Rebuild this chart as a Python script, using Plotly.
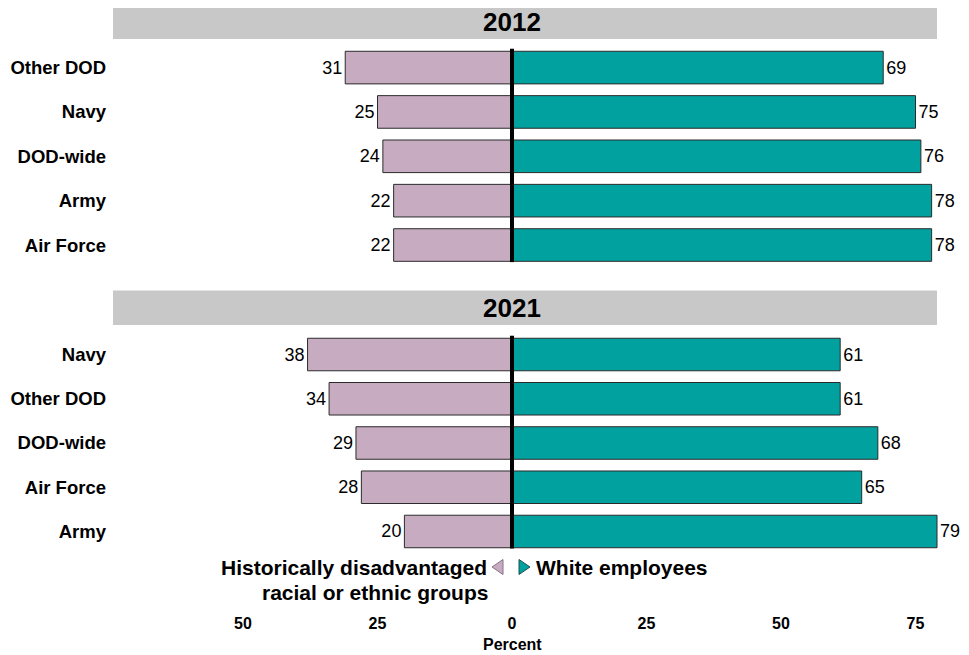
import plotly.graph_objects as go

# ---- data ----
cats_2012 = ["Other DOD", "Navy", "DOD-wide", "Army", "Air Force"]
hist_2012 = [31, 25, 24, 22, 22]
white_2012 = [69, 75, 76, 78, 78]

cats_2021 = ["Navy", "Other DOD", "DOD-wide", "Air Force", "Army"]
hist_2021 = [38, 34, 29, 28, 20]
white_2021 = [61, 61, 68, 65, 79]

tick_vals = [-50, -25, 0, 25, 50, 75]
tick_text = ["50", "25", "0", "25", "50", "75"]
years = ["2012", "2021"]

PURPLE = "#C7ACC1"
TEAL = "#00A19F"
GRAY = "#C8C8C8"
EDGE = "#2b2b2b"
FONT = "Liberation Sans, Arial, sans-serif"

OFF = 8            # page body offset
W, H = 953, 647    # figure size (visible page area minus body margin)
S = 5.38           # pixels per percent
ZERO = 512         # page x of 0


def py(page_y):
    return 1 - (page_y - OFF) / H


def dx(page_x):
    return (page_x - ZERO) / S


ML = 113 - OFF
MR = 0
XMIN = dx(113)
XMAX = XMIN + (W - ML - MR) / S

fig = go.Figure()

panels = [
    (cats_2012, hist_2012, white_2012, "y"),
    (cats_2021, hist_2021, white_2021, "y2"),
]
for cats, hist, white, yax in panels:
    fig.add_trace(go.Bar(
        y=cats, x=[-v for v in hist], orientation="h", yaxis=yax, xaxis="x",
        marker=dict(color=PURPLE, line=dict(color=EDGE, width=1)),
        text=[str(v) for v in hist], textposition="outside",
        textfont=dict(family=FONT, size=18, color="black"),
        cliponaxis=False, showlegend=False, hoverinfo="skip",
    ))
    fig.add_trace(go.Bar(
        y=cats, x=white, orientation="h", yaxis=yax, xaxis="x",
        marker=dict(color=TEAL, line=dict(color=EDGE, width=1)),
        text=[str(v) for v in white], textposition="outside",
        textfont=dict(family=FONT, size=18, color="black"),
        cliponaxis=False, showlegend=False, hoverinfo="skip",
    ))

dom1 = [py(267.2), py(45.4)]
dom2 = [py(553.6), py(332.4)]

ycommon = dict(
    type="category", range=[4.5, -0.5], showgrid=False, zeroline=False,
    showline=False, ticks="", ticklabelstandoff=6,
    tickfont=dict(family=FONT, size=18.5, color="black", weight="bold"),
    anchor="x",
)

fig.update_layout(
    width=W, height=H,
    margin=dict(l=ML, r=MR, t=0, b=0, pad=0),
    plot_bgcolor="white", paper_bgcolor="white",
    barmode="relative", bargap=0.265,
    xaxis=dict(
        range=[XMIN, XMAX], showgrid=False, zeroline=False, showline=False,
        tickvals=tick_vals, ticktext=tick_text, ticks="",
        tickfont=dict(family=FONT, size=16, color="black", weight="bold"),
        anchor="free", position=py(612),
    ),
    yaxis=dict(domain=dom1, categoryarray=cats_2012, **ycommon),
    yaxis2=dict(domain=dom2, categoryarray=cats_2021, **ycommon),
)

# header bands and year titles
bands = [(4.5, 39, 22, years[0]), (290.5, 325, 308, years[1])]
for top, bot, mid, label in bands:
    fig.add_shape(type="rect", xref="x", yref="paper",
                  x0=XMIN, x1=dx(937), y0=py(bot), y1=py(top),
                  fillcolor=GRAY, line=dict(width=0), layer="below")
    fig.add_annotation(x=0, xref="x", y=py(mid), yref="paper",
                       text="<b>%s</b>" % label, showarrow=False,
                       font=dict(family=FONT, size=26, color="black"),
                       xanchor="center", yanchor="middle")

# center lines
for yref in ["y domain", "y2 domain"]:
    fig.add_shape(type="line", xref="x", yref=yref, x0=0, x1=0,
                  y0=0.023, y1=0.985, line=dict(color="black", width=4),
                  layer="above")

# legend-like annotations
fig.add_annotation(x=dx(489), xref="x", y=py(567), yref="paper",
                   text="<b>Historically disadvantaged</b>", showarrow=False,
                   font=dict(family=FONT, size=21, color="black"),
                   xanchor="right", yanchor="middle")
fig.add_annotation(x=dx(375), xref="x", y=py(592), yref="paper",
                   text="<b>racial or ethnic groups</b>", showarrow=False,
                   font=dict(family=FONT, size=21, color="black"),
                   xanchor="center", yanchor="middle")
fig.add_annotation(x=dx(534), xref="x", y=py(567), yref="paper",
                   text="<b>White employees</b>", showarrow=False,
                   font=dict(family=FONT, size=21, color="black"),
                   xanchor="left", yanchor="middle")

# legend triangles
ty0, ty1, tym = py(559.5), py(574.5), py(567)
fig.add_shape(type="path", xref="x", yref="paper",
              path="M %f,%f L %f,%f L %f,%f Z" % (dx(503), ty0, dx(503), ty1, dx(492), tym),
              fillcolor=PURPLE, line=dict(color="#8a7088", width=1))
fig.add_shape(type="path", xref="x", yref="paper",
              path="M %f,%f L %f,%f L %f,%f Z" % (dx(519), ty0, dx(519), ty1, dx(530), tym),
              fillcolor=TEAL, line=dict(color="#1e4f4e", width=1))

# axis title
fig.add_annotation(x=0, xref="x", y=py(644), yref="paper",
                   text="<b>Percent</b>", showarrow=False,
                   font=dict(family=FONT, size=16, color="black"),
                   xanchor="center", yanchor="middle")

fig.write_html("out.html")
